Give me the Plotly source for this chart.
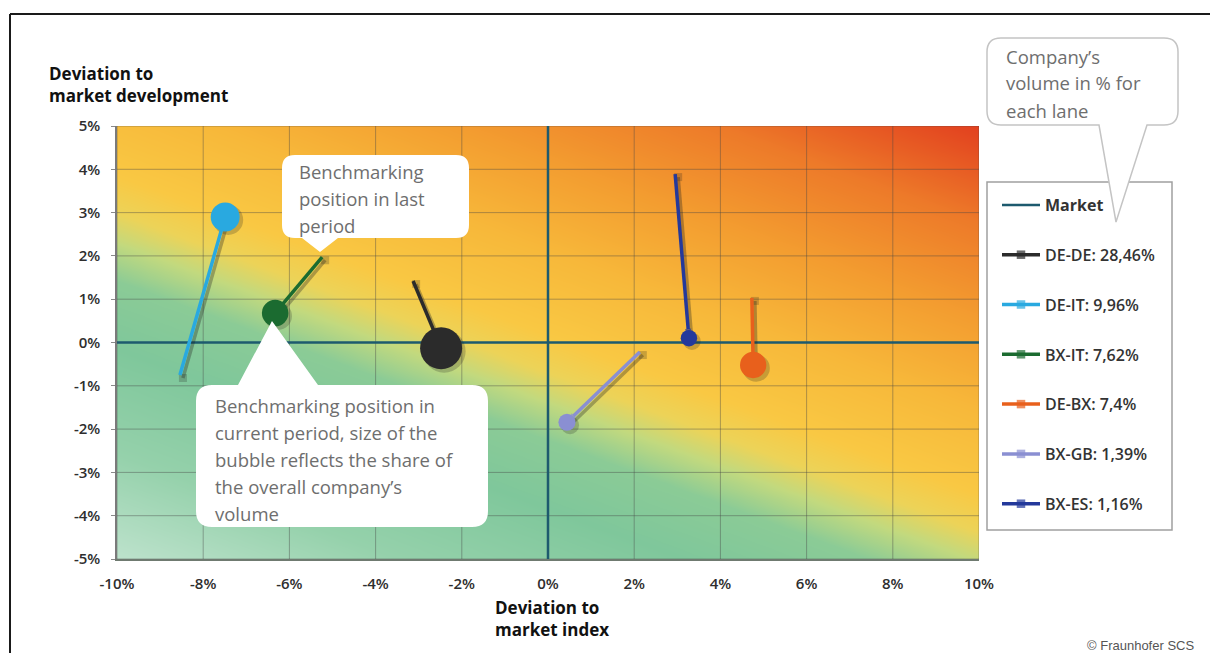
import numpy as np
import plotly.graph_objects as go

# ---- data -------------------------------------------------------------
lanes = ["DE-DE", "DE-IT", "BX-IT", "DE-BX", "BX-GB", "BX-ES"]
volume_share = [28.46, 9.96, 7.62, 7.4, 1.39, 1.16]          # % of company volume
index_dev_last = [-3.13, -8.54, -5.24, 4.73, 2.13, 2.95]      # x, last period
market_dev_last = [1.42, -0.75, 1.97, 1.03, -0.22, 3.89]      # y, last period
index_dev_now = [-2.48, -7.49, -6.33, 4.76, 0.44, 3.27]       # x, current period
market_dev_now = [-0.13, 2.90, 0.68, -0.52, -1.84, 0.10]      # y, current period

x_ticks = [-10, -8, -6, -4, -2, 0, 2, 4, 6, 8, 10]
x_tick_labels = ["-10%", "-8%", "-6%", "-4%", "-2%", "0%", "2%", "4%", "6%", "8%", "10%"]
y_ticks = [-5, -4, -3, -2, -1, 0, 1, 2, 3, 4, 5]
y_tick_labels = ["-5%", "-4%", "-3%", "-2%", "-1%", "0%", "1%", "2%", "3%", "4%", "5%"]

# ---- styles -------------------------------------------------------------
lane_colors = ["#2b2b2b", "#29a9e0", "#1b6b30", "#e8601c", "#8a8fd2", "#24399b"]
market_color = "#1d5a6e"
grid_color = "rgba(70,70,70,0.42)"
shadow_color = "rgba(30,30,30,0.32)"
W, H = 1210, 653
PL, PR, PT, PB = 117, 979, 126, 559          # plot area in page pixels
FONT = "Open Sans"
X_RANGE = (x_ticks[0], x_ticks[-1])
Y_RANGE = (y_ticks[0], y_ticks[-1])


def px(x):
    return (x - PL) / (PR - PL)


def py(y):
    return (PB - y) / (PB - PT)


def bubble_size(share):
    return 10 + 6 * np.sqrt(share)


fig = go.Figure()

# background gradient: green (lower left) -> yellow -> red (upper right)
gx = np.linspace(X_RANGE[0], X_RANGE[1], 161)
gy = np.linspace(Y_RANGE[0], Y_RANGE[1], 81)
U, V = np.meshgrid((gx - X_RANGE[0]) / (X_RANGE[1] - X_RANGE[0]),
                   (gy - Y_RANGE[0]) / (Y_RANGE[1] - Y_RANGE[0]))
wx, wy = 0.37 * (PR - PL), (PB - PT)
T = (wx * U + wy * V) / (wx + wy)
scale = [
    [0.00, "#bde2cc"], [0.14, "#95d1ab"], [0.28, "#7fc79b"], [0.37, "#8bcb96"],
    [0.42, "#c2d97e"], [0.46, "#ecd358"], [0.51, "#f9c843"], [0.62, "#f7b83a"],
    [0.74, "#f39d30"], [0.87, "#ed7a29"], [1.00, "#e2401f"],
]
fig.add_trace(go.Heatmap(x=gx, y=gy, z=T, zmin=0, zmax=1, colorscale=scale,
                         zsmooth="best", showscale=False, hoverinfo="skip",
                         showlegend=False))

# grid lines drawn over the gradient
gxs, gys = [], []
for t in x_ticks:
    gxs += [t, t, None]
    gys += [Y_RANGE[0], Y_RANGE[1], None]
for t in y_ticks:
    gxs += [X_RANGE[0], X_RANGE[1], None]
    gys += [t, t, None]
fig.add_trace(go.Scatter(x=gxs, y=gys, mode="lines", hoverinfo="skip",
                         line=dict(color=grid_color, width=1), showlegend=False))

# market reference (zero deviation on both axes)
fig.add_trace(go.Scatter(x=[X_RANGE[0], X_RANGE[1], None, 0, 0],
                         y=[0, 0, None, Y_RANGE[0], Y_RANGE[1]],
                         mode="lines", name="<b>Market</b>", legendgroup="market",
                         line=dict(color=market_color, width=2.5),
                         hoverinfo="skip", legendrank=1))

# soft drop shadows under the lanes
sdx, sdy = 0.07, -0.07
for i in range(len(lanes)):
    fig.add_trace(go.Scatter(
        x=[index_dev_last[i] + sdx, index_dev_now[i] + sdx],
        y=[market_dev_last[i] + sdy, market_dev_now[i] + sdy],
        mode="lines+markers", hoverinfo="skip", showlegend=False,
        line=dict(color=shadow_color, width=3.5),
        marker=dict(symbol=["square", "circle"],
                    size=[8, bubble_size(volume_share[i]) + 1],
                    color=shadow_color, line=dict(width=0)),
    ))

# movement of each lane: last period (square) -> current period (bubble)
for i, lane in enumerate(lanes):
    label = f"{lane}: {str(volume_share[i]).replace('.', ',')}%"
    fig.add_trace(go.Scatter(
        x=[index_dev_last[i], index_dev_now[i]],
        y=[market_dev_last[i], market_dev_now[i]],
        mode="lines+markers", name=label, legendgroup=lane, legendrank=2 + i,
        line=dict(color=lane_colors[i], width=3.5),
        marker=dict(symbol=["square", "arrow"], angleref="previous",
                    size=[7, 10], color=lane_colors[i], line=dict(width=0)),
        hoverinfo="skip",
    ))
    fig.add_trace(go.Scatter(
        x=[index_dev_now[i]], y=[market_dev_now[i]], mode="markers",
        showlegend=False, legendgroup=lane,
        marker=dict(size=bubble_size(volume_share[i]), color=lane_colors[i],
                    line=dict(width=0)),
        hovertemplate=label + "<extra></extra>",
    ))


# ---- callouts -----------------------------------------------------------
def callout_path(x0, y0, x1, y1, r, tail=None):
    pts = []
    pts.append(("M", (x0 + r, y0)))
    if tail and tail[0] == "top":
        _, a, b, tip = tail
        pts += [("L", (a, y0)), ("L", tip), ("L", (b, y0))]
    pts.append(("L", (x1 - r, y0)))
    pts.append(("Q", (x1, y0), (x1, y0 + r)))
    pts.append(("L", (x1, y1 - r)))
    pts.append(("Q", (x1, y1), (x1 - r, y1)))
    if tail and tail[0] == "bottom":
        _, a, b, tip = tail
        pts += [("L", (b, y1)), ("L", tip), ("L", (a, y1))]
    pts.append(("L", (x0 + r, y1)))
    pts.append(("Q", (x0, y1), (x0, y1 - r)))
    pts.append(("L", (x0, y0 + r)))
    pts.append(("Q", (x0, y0), (x0 + r, y0)))
    out = []
    for cmd, *ps in pts:
        out.append(cmd + " ".join(f"{px(p[0]):.5f},{py(p[1]):.5f}" for p in ps))
    return " ".join(out) + " Z"


shapes = []
# outer frame (top and left rules)
shapes.append(dict(type="line", xref="paper", yref="paper",
                   x0=px(10), x1=px(W + 5), y0=py(14), y1=py(14),
                   line=dict(color="#1a1a1a", width=2)))
shapes.append(dict(type="line", xref="paper", yref="paper",
                   x0=px(10), x1=px(10), y0=py(14), y1=py(H + 5),
                   line=dict(color="#1a1a1a", width=2)))
# legend box
shapes.append(dict(type="rect", xref="paper", yref="paper",
                   x0=px(987), x1=px(1172), y0=py(182), y1=py(530),
                   fillcolor="white", line=dict(color="#a0a0a0", width=1.5),
                   layer="below"))
# callout: last period
shapes.append(dict(type="path", xref="paper", yref="paper",
                   path=callout_path(282, 155, 469, 238, 13,
                                     ("bottom", 302, 338, (320, 252))),
                   fillcolor="white", line=dict(width=0)))
# callout: current period
shapes.append(dict(type="path", xref="paper", yref="paper",
                   path=callout_path(196, 385, 488, 527, 16,
                                     ("top", 238, 318, (272, 321))),
                   fillcolor="white", line=dict(width=0)))
# callout: company volume
shapes.append(dict(type="path", xref="paper", yref="paper",
                   path=callout_path(987, 38, 1178, 125, 14,
                                     ("bottom", 1099, 1147, (1116, 222))),
                   fillcolor="white", line=dict(color="#c4c4c4", width=1.5)))

annotations = []


def text_lines(lines, x, y_first, step, size=18.5, color="#6e6e6e"):
    for k, line in enumerate(lines):
        annotations.append(dict(
            xref="paper", yref="paper", x=px(x), y=py(y_first + k * step),
            xanchor="left", yanchor="middle", showarrow=False, text=line,
            font=dict(family=FONT, size=size, color=color)))


text_lines(["Benchmarking", "position in last", "period"], 297, 172, 26.5)
text_lines(["Benchmarking position in", "current period, size of the",
            "bubble reflects the share of", "the overall company\u2019s", "volume"],
           213, 405, 27)
text_lines(["Company\u2019s", "volume in % for", "each lane"], 1004, 56, 27)

# axis titles
annotations.append(dict(xref="paper", yref="paper", x=px(47), y=py(60),
                        xanchor="left", yanchor="top", align="left", showarrow=False,
                        text="<b>Deviation to<br>market development</b>",
                        font=dict(family=FONT, size=17, color="#111")))
annotations.append(dict(xref="paper", yref="paper", x=px(493), y=py(594),
                        xanchor="left", yanchor="top", align="left", showarrow=False,
                        text="<b>Deviation to<br>market index</b>",
                        font=dict(family=FONT, size=17, color="#111")))
annotations.append(dict(xref="paper", yref="paper", x=px(1196), y=py(645),
                        xanchor="right", yanchor="middle", showarrow=False,
                        text="\u00a9 Fraunhofer SCS",
                        font=dict(family="Liberation Sans", size=13, color="#555")))

tick_font = dict(family=FONT, size=15, color="#2e2e2e", weight=600)
fig.update_layout(
    width=W, height=H,
    margin=dict(l=PL, r=W - PR, t=PT, b=H - PB, pad=0),
    paper_bgcolor="white", plot_bgcolor="white",
    xaxis=dict(range=list(X_RANGE), tickvals=x_ticks, ticktext=x_tick_labels,
               showgrid=False, zeroline=False, showline=True,
               linecolor="#6f7a70", linewidth=1.5, ticks="",
               tickfont=tick_font, ticklabelstandoff=10, fixedrange=True),
    yaxis=dict(range=list(Y_RANGE), tickvals=y_ticks, ticktext=y_tick_labels,
               showgrid=False, zeroline=False, showline=True,
               linecolor="#7a7a7a", linewidth=1.5, ticks="outside",
               ticklen=4, tickcolor="#8a8a8a",
               tickfont=tick_font, ticklabelstandoff=8, fixedrange=True),
    shapes=shapes, annotations=annotations,
    showlegend=True,
    legend=dict(x=px(997), y=py(188), xanchor="left", yanchor="top",
                bgcolor="rgba(0,0,0,0)", borderwidth=0,
                font=dict(family=FONT, size=16, color="#333", weight=600),
                tracegroupgap=26, itemwidth=38, traceorder="grouped"),
)

fig.write_html("out.html")
